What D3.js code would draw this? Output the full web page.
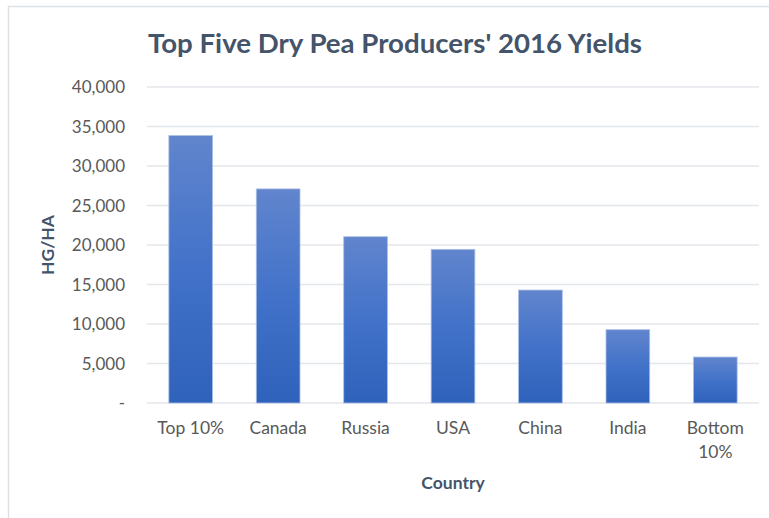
<!DOCTYPE html>
<html><head><meta charset="utf-8">
<script src="https://cdn.jsdelivr.net/npm/d3@7"></script>
<style>body{margin:0;background:#fff}svg{display:block}</style>
</head><body>
<script>
const categories = ["Top 10%", "Canada", "Russia", "USA", "China", "India", "Bottom 10%"];
const values = [33850, 27100, 21050, 19450, 14300, 9280, 5820];
const yTicks = [0, 5000, 10000, 15000, 20000, 25000, 30000, 35000, 40000];
const title = "Top Five Dry Pea Producers' 2016 Yields";
const xTitle = "Country";
const yTitle = "HG/HA";

const W = 769, H = 518;
const font = "Lato, 'Open Sans', sans-serif";
const svg = d3.select("body").append("svg").attr("width", W).attr("height", H);

const defs = svg.append("defs");
const g = defs.append("linearGradient").attr("id","barGrad").attr("x1",0).attr("y1",0).attr("x2",0).attr("y2",1);
g.append("stop").attr("offset","0%").attr("stop-color","#6185cd");
g.append("stop").attr("offset","50%").attr("stop-color","#4272c9");
g.append("stop").attr("offset","100%").attr("stop-color","#2f62bb");

// chart border
svg.append("rect").attr("x",8.5).attr("y",6.5).attr("width",W).attr("height",H)
  .attr("fill","#fff").attr("stroke","#dde1e6").attr("stroke-width",1.5);

const x = d3.scaleBand().domain(categories).range([147, 759]).paddingInner(0.5).paddingOuter(0.25);
const y = d3.scaleLinear().domain([0, 40000]).range([403, 87]);

// gridlines
svg.append("g").selectAll("line").data(yTicks).join("line")
  .attr("x1",147).attr("x2",759).attr("y1",d=>y(d)).attr("y2",d=>y(d))
  .attr("stroke","#e3e6ea").attr("stroke-width",1.5);

// y axis labels
const yAxis = d3.axisLeft(y).tickValues(yTicks).tickSize(0).tickPadding(0)
  .tickFormat(d => d === 0 ? "-" : d3.format(",")(d));
const ya = svg.append("g").attr("transform","translate(125,0)").call(yAxis);
ya.select(".domain").remove();
ya.selectAll("text").attr("font-family",font).attr("font-size",17).attr("fill","#595959").attr("dy","0.35em");

// bars
svg.append("g").selectAll("rect").data(values).join("rect")
  .attr("x",(d,i)=>x(categories[i])).attr("width",x.bandwidth())
  .attr("y",d=>y(d)).attr("height",d=>y(0)-y(d))
  .attr("fill","url(#barGrad)").attr("stroke","#aabfe6").attr("stroke-width",0.8);

// x axis labels
const xAxis = d3.axisBottom(x).tickSize(0).tickPadding(0);
const xa = svg.append("g").attr("transform","translate(0,403)").call(xAxis);
xa.select(".domain").remove();
xa.selectAll("text").attr("font-family",font).attr("font-size",17.5).attr("fill","#595959")
  .attr("dy",null).attr("y",31)
  .each(function(d){
    const t = d3.select(this);
    if (d === "Bottom 10%") {
      t.text(null);
      t.append("tspan").attr("x",0).attr("y",31).text("Bottom");
      t.append("tspan").attr("x",0).attr("y",55).text("10%");
    }
  });

// title
svg.append("text").attr("x",395).attr("y",53).attr("text-anchor","middle")
  .attr("font-family",font).attr("font-weight","bold").attr("font-size",27)
  .attr("textLength",494).attr("lengthAdjust","spacingAndGlyphs")
  .attr("fill","#44546a").text(title);

// axis titles
svg.append("text").attr("x",453).attr("y",489).attr("text-anchor","middle")
  .attr("font-family",font).attr("font-weight","bold").attr("font-size",17.5).attr("fill","#44546a").text(xTitle);
svg.append("text").attr("transform","translate(54,245) rotate(-90)").attr("text-anchor","middle")
  .attr("font-family",font).attr("font-weight","bold").attr("font-size",17.5).attr("fill","#44546a").text(yTitle);
</script>
</body></html>
